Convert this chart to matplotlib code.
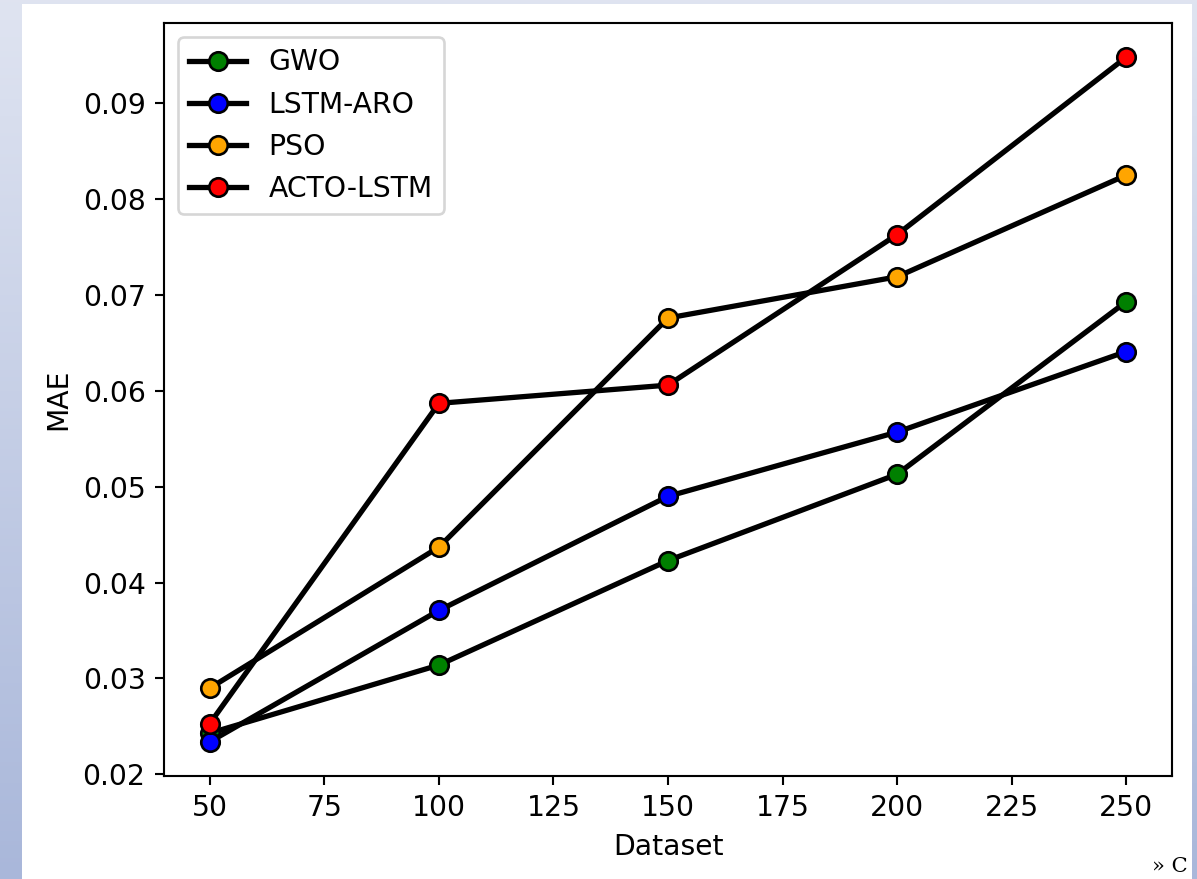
import numpy as np
import matplotlib
matplotlib.use("Agg")
import matplotlib.pyplot as plt
from matplotlib.patches import Rectangle

# --- data ---
datasets = [50, 100, 150, 200, 250]
gwo = [0.0243, 0.0314, 0.0423, 0.0513, 0.0693]
lstm_aro = [0.0234, 0.0371, 0.0490, 0.0557, 0.0641]
pso = [0.0290, 0.0437, 0.0676, 0.0719, 0.0825]
acto_lstm = [0.0253, 0.0587, 0.0606, 0.0763, 0.0948]

series = [
    ("GWO", gwo, "green"),
    ("LSTM-ARO", lstm_aro, "blue"),
    ("PSO", pso, "orange"),
    ("ACTO-LSTM", acto_lstm, "red"),
]

W, H, DPI = 1197, 879, 190
plt.rcParams["font.size"] = 10.7
fig = plt.figure(figsize=(W / DPI, H / DPI), dpi=DPI)

# --- bluish slide background behind the white figure ---
bg = fig.add_axes([0, 0, 1, 1], zorder=-10)
grad = np.linspace(0, 1, 256).reshape(-1, 1)
top = np.array([0.875, 0.894, 0.945])
bot = np.array([0.663, 0.718, 0.855])
img = top + (bot - top) * grad[:, :, None]
bg.imshow(img, aspect="auto", extent=[0, 1, 0, 1], origin="upper")
bg.add_patch(Rectangle((22 / W, 0), (1192 - 22) / W, 1 - 4 / H,
                       facecolor="white", edgecolor="none"))
bg.set_xlim(0, 1)
bg.set_ylim(0, 1)
bg.axis("off")

# --- the chart itself ---
ax = fig.add_axes([164 / W, 1 - 776 / H, (1172 - 164) / W, (776 - 23) / H])
for name, vals, col in series:
    ax.plot(datasets, vals, color="black", linewidth=2, marker="o",
            markersize=7, markerfacecolor=col, markeredgecolor="black",
            label=name)

ax.set_xlabel("Dataset")
ax.set_ylabel("MAE")
ax.legend(loc="upper left")

fig.text(1152 / W, 1 - 876 / H, "» C", fontsize=8, family="serif",
         ha="left", va="bottom")

plt.savefig("out.png", dpi=DPI)
plt.close()
